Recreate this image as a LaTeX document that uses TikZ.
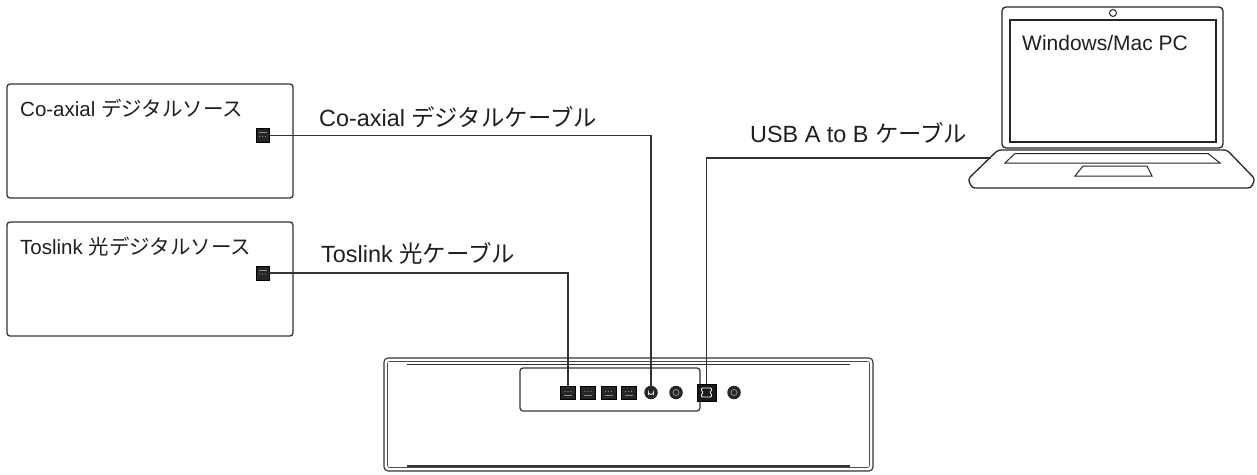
\documentclass[tikz,border=0pt]{standalone}
\usepackage{fontspec}
\setmainfont{Liberation Sans}
\newfontfamily\jpfont{Noto Sans CJK JP}
\newcommand\jtxt[1]{{\jpfont #1}}
\begin{document}
\begin{tikzpicture}[x=1pt,y=-1pt,
  ink/.style={draw=black!80},
  srcbox/.style={ink,line width=1.3pt,rounded corners=3pt,minimum width=286pt,minimum height=114pt,inner sep=0pt},
  cable/.style={draw=black!80,line width=1.6pt},
  cablelabel/.style={anchor=west,inner sep=0pt,font=\fontsize{23.4}{27}\selectfont,text=black!88},
  srclabel/.style={anchor=west,inner sep=0pt,font=\fontsize{20.5}{24}\selectfont,text=black!88},
  srcport/.style={draw=black,fill=black!85,minimum width=13pt,minimum height=14pt,inner sep=0pt,line width=0.6pt},
  optport/.style={draw=black,fill=black!85,minimum width=15pt,minimum height=13pt,inner sep=0pt,line width=0.6pt},
  rcaport/.style={circle,fill=black!85,minimum size=13.5pt,inner sep=0pt},
  usbport/.style={draw=black,fill=black!90,minimum width=19pt,minimum height=17pt,inner sep=0pt,line width=0.6pt},
]
\useasboundingbox (0,0) rectangle (1257,474);

% ---------- sources ----------
\node[srcbox] (coaxsrc) at (150,141) {};
\node[srcbox] (optsrc)  at (150,279) {};
\node[srclabel] (coaxsrclbl) at (20,108) {Co-axial \jtxt{デジタルソース}};
\node[srclabel] (optsrclbl)  at (20,247) {Toslink \jtxt{光デジタルソース}};
\node[srcport] (coaxout) at (262.5,135.5) {};
\node[srcport] (optout)  at (262.5,273) {};
\foreach \p in {coaxout,optout}{
  \fill[black!45] ([xshift=-3pt,yshift=-1pt]\p.center) circle (0.7pt)
                  ([xshift=0pt,yshift=-1pt]\p.center) circle (0.7pt)
                  ([xshift=3pt,yshift=-1pt]\p.center) circle (0.7pt);
  \draw[black!45,line width=0.5pt] ([xshift=-4pt,yshift=3pt]\p.center) -- ([xshift=4pt,yshift=3pt]\p.center);
}

% ---------- receiving unit ----------
\draw[ink,line width=1.1pt,rounded corners=4pt] (384,358) rectangle (873,471);
\draw[black!70,line width=0.6pt,rounded corners=2pt] (387.5,361.5) rectangle (869.5,467.5);
\draw[black!80,line width=1.8pt] (407,364.5) -- (850,364.5);
\draw[black!80,line width=1.8pt] (407,466) -- (850,466);
\node[draw=black!80,line width=1.2pt,rounded corners=3pt,minimum width=180pt,minimum height=43pt,inner sep=0pt] (panel) at (610,389.5) {};

\foreach \i/\x in {1/568,2/588,3/608.5,4/628.5}{
  \node[optport] (opt\i) at (\x,392.5) {};
  \fill[black!45] ([xshift=-3pt,yshift=1pt]opt\i.center) circle (0.7pt)
                  ([xshift=0pt,yshift=1pt]opt\i.center) circle (0.7pt)
                  ([xshift=3pt,yshift=1pt]opt\i.center) circle (0.7pt);
  \draw[black!45,line width=0.5pt] ([xshift=-4pt,yshift=-3pt]opt\i.center) -- ([xshift=4pt,yshift=-3pt]opt\i.center);
}
\node[rcaport] (coaxin) at (651,392.5) {};
\node[rcaport] (rca2) at (676,392.5) {};
\node[rcaport] (rca3) at (734,392.5) {};
\draw[white!85!black,line width=0.9pt] ([xshift=-2.5pt,yshift=-2.5pt]coaxin.center) -- ([xshift=-2.5pt,yshift=0.5pt]coaxin.center)
  arc[start angle=180,end angle=360,radius=2.5pt] -- ([xshift=2.5pt,yshift=-2.5pt]coaxin.center);
\foreach \c in {rca2,rca3}{
  \draw[black!45,line width=0.8pt] (\c.center) circle (3pt);
}
\node[usbport] (usbin) at (706.5,392.5) {};
\draw[white,line width=0.8pt,rounded corners=1pt]
  ([xshift=-5pt,yshift=-4.5pt]usbin.center) -- ([xshift=5pt,yshift=-4.5pt]usbin.center)
  -- ([xshift=5pt,yshift=-1.5pt]usbin.center) -- ([xshift=3pt,yshift=0pt]usbin.center)
  -- ([xshift=5pt,yshift=1.5pt]usbin.center) -- ([xshift=5pt,yshift=4.5pt]usbin.center)
  -- ([xshift=-5pt,yshift=4.5pt]usbin.center) -- ([xshift=-5pt,yshift=1.5pt]usbin.center)
  -- ([xshift=-3pt,yshift=0pt]usbin.center) -- ([xshift=-5pt,yshift=-1.5pt]usbin.center) -- cycle;

% ---------- laptop ----------
\node[draw=black!85,line width=1.3pt,rounded corners=4pt,minimum width=221pt,minimum height=141pt,inner sep=0pt] (screen) at (1112.5,77.5) {};
\draw[black!85,line width=1.1pt] (1010,20) rectangle (1216,142);
\node[circle,draw=black!85,fill=white,line width=1pt,minimum size=7pt,inner sep=0pt] (camera) at (1113,13) {};
\node[anchor=west,inner sep=0pt,font=\fontsize{21}{25}\selectfont,text=black!88] (pclbl) at (1022,43) {Windows/Mac PC};
\draw[black!85,line width=1.3pt,rounded corners=3pt,fill=white]
  (998,150) -- (1227,150) -- (1255,179) -- (1251,188) -- (972,188) -- (968,179) -- cycle;
\draw[black!85,line width=1pt] (1015,153.5) -- (1208,153.5) -- (1220,163) -- (1005,163) -- cycle;
\draw[black!85,line width=1pt] (1083,166) -- (1147,166) -- (1152,176) -- (1075,176) -- cycle;
\coordinate (pcin) at (991,158);

% ---------- cables ----------
\draw[cable] (coaxout.east) -| (coaxin.north);
\draw[cable] (optout.east) -| (opt1.north);
\draw[cable] (usbin.north) |- (pcin);

\node[cablelabel] (coaxlbl) at (319,117) {Co-axial \jtxt{デジタルケーブル}};
\node[cablelabel] (optlbl)  at (321,253) {Toslink \jtxt{光ケーブル}};
\node[cablelabel] (usblbl)  at (750,133) {USB A to B \jtxt{ケーブル}};
\end{tikzpicture}
\end{document}
